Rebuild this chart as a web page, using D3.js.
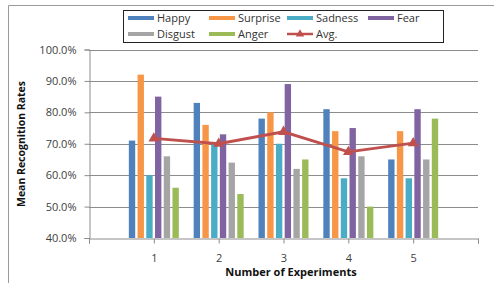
<!DOCTYPE html>
<html>
<head>
<meta charset="utf-8">
<script src="https://cdn.jsdelivr.net/npm/d3@7"></script>
<style>
  body { margin: 0; background: #fff; }
  text { font-family: "Open Sans", "Liberation Sans", sans-serif; }
</style>
</head>
<body>
<div id="chart"></div>
<script>
// data
var experiments = ["1", "2", "3", "4", "5"];
var series = ["Happy", "Surprise", "Sadness", "Fear", "Disgust", "Anger"];
var happy    = [0.71, 0.83, 0.78, 0.81, 0.65];
var surprise = [0.92, 0.76, 0.80, 0.74, 0.74];
var sadness  = [0.60, 0.70, 0.70, 0.59, 0.59];
var fear     = [0.85, 0.73, 0.89, 0.75, 0.81];
var disgust  = [0.66, 0.64, 0.62, 0.66, 0.65];
var anger    = [0.56, 0.54, 0.65, 0.50, 0.78];
var avg      = [0.717, 0.700, 0.738, 0.674, 0.702];
var yTicks   = [0.4, 0.5, 0.6, 0.7, 0.8, 0.9, 1.0];

var values = [happy, surprise, sadness, fear, disgust, anger];
var colors = ["#4F81BD", "#F79646", "#4BACC6", "#8064A2", "#A5A5A5", "#9BBB59"];
var avgColor = "#C0504D";

var W = 494, H = 283;
var svg = d3.select("#chart").append("svg")
    .attr("width", W)
    .attr("height", H);

// outer frame (only top and left edges show in the picture)
svg.append("path")
    .attr("d", "M8.5," + H + "V5.5H" + W)
    .attr("fill", "none")
    .attr("stroke", "#9a9a9a");

var x = d3.scaleLinear().domain([0, 6]).range([89, 478]);
var y = d3.scaleLinear().domain([0.4, 1.0]).range([238, 49.5]);
var inner = d3.scaleBand().domain(series).range([-25, 25]).paddingInner(0.27);

// gridlines
svg.append("g")
  .selectAll("line")
  .data(yTicks.slice(1))
  .enter().append("line")
    .attr("x1", x(0)).attr("x2", x(6))
    .attr("y1", function(d) { return Math.round(y(d)) + 0.5; })
    .attr("y2", function(d) { return Math.round(y(d)) + 0.5; })
    .attr("stroke", "#8c8c8c");

// y axis
var yAxis = svg.append("g")
    .attr("transform", "translate(" + (x(0) + 0.5) + ",0)")
    .call(d3.axisLeft(y).tickValues(yTicks).tickSize(5).tickPadding(8)
      .tickFormat(function(d) { return (d * 100).toFixed(1) + "%"; }));
yAxis.select(".domain").attr("stroke", "#8c8c8c");
yAxis.selectAll(".tick line").attr("stroke", "#8c8c8c");
yAxis.selectAll("text")
    .attr("font-size", "11px")
    .attr("fill", "#404040")
    .style("font-family", "'Open Sans', sans-serif");

// x axis
var xAxis = svg.append("g")
    .attr("transform", "translate(0," + (Math.round(y(0.4)) + 0.5) + ")")
    .call(d3.axisBottom(x).tickValues([0, 1, 2, 3, 4, 5, 6]).tickSize(5).tickPadding(11)
      .tickFormat(function(d) { return (d >= 1 && d <= 5) ? experiments[d - 1] : ""; }));
xAxis.select(".domain").attr("stroke", "#8c8c8c");
xAxis.selectAll(".tick line").attr("stroke", "#8c8c8c");
xAxis.selectAll("text")
    .attr("font-size", "11px")
    .attr("fill", "#404040")
    .style("font-family", "'Open Sans', sans-serif");

// bars
series.forEach(function(s, j) {
  svg.append("g")
    .selectAll("rect")
    .data(values[j])
    .enter().append("rect")
      .attr("x", function(d, i) { return x(i + 1) + inner(s); })
      .attr("width", inner.bandwidth())
      .attr("y", function(d) { return y(d); })
      .attr("height", function(d) { return y(0.4) - y(d); })
      .attr("fill", colors[j]);
});

// average line with triangle markers
svg.append("path")
    .datum(avg)
    .attr("fill", "none")
    .attr("stroke", avgColor)
    .attr("stroke-width", 2.8)
    .attr("d", d3.line()
      .x(function(d, i) { return x(i + 1); })
      .y(function(d) { return y(d); }));

svg.append("g")
  .selectAll("path")
  .data(avg)
  .enter().append("path")
    .attr("transform", function(d, i) { return "translate(" + x(i + 1) + "," + y(d) + ")"; })
    .attr("d", d3.symbol().type(d3.symbolTriangle).size(50))
    .attr("fill", avgColor);

// axis titles
svg.append("text")
    .text("Number of Experiments")
    .attr("x", 291)
    .attr("y", 276)
    .attr("text-anchor", "middle")
    .attr("font-size", "11px")
    .attr("font-weight", "bold")
    .attr("fill", "#111");

svg.append("text")
    .text("Mean Recognition Rates")
    .attr("transform", "translate(25,144) rotate(-90)")
    .attr("text-anchor", "middle")
    .attr("font-size", "11px")
    .attr("font-weight", "bold")
    .attr("textLength", 126)
    .attr("lengthAdjust", "spacingAndGlyphs")
    .attr("fill", "#111");

// legend
var legend = svg.append("g");
legend.append("rect")
    .attr("x", 123.5).attr("y", 10.5)
    .attr("width", 320).attr("height", 32)
    .attr("fill", "#fff")
    .attr("stroke", "#222");

var legendItems = series.concat(["Avg."]);
var colX = [128, 209, 287, 368];
var rowY = [18, 34];
legendItems.forEach(function(name, k) {
  var lx = colX[k % 4], ly = rowY[Math.floor(k / 4)];
  if (k < series.length) {
    legend.append("rect")
        .attr("x", lx).attr("y", ly - 2)
        .attr("width", 26).attr("height", 4)
        .attr("fill", colors[k]);
  } else {
    legend.append("line")
        .attr("x1", lx).attr("x2", lx + 26)
        .attr("y1", ly).attr("y2", ly)
        .attr("stroke", avgColor).attr("stroke-width", 2.5);
    legend.append("path")
        .attr("transform", "translate(" + (lx + 13) + "," + ly + ")")
        .attr("d", d3.symbol().type(d3.symbolTriangle).size(30))
        .attr("fill", avgColor);
  }
  legend.append("text")
      .text(name)
      .attr("x", lx + 29)
      .attr("y", ly + 4)
      .attr("font-size", "11px")
      .attr("fill", "#333");
});
</script>
</body>
</html>
